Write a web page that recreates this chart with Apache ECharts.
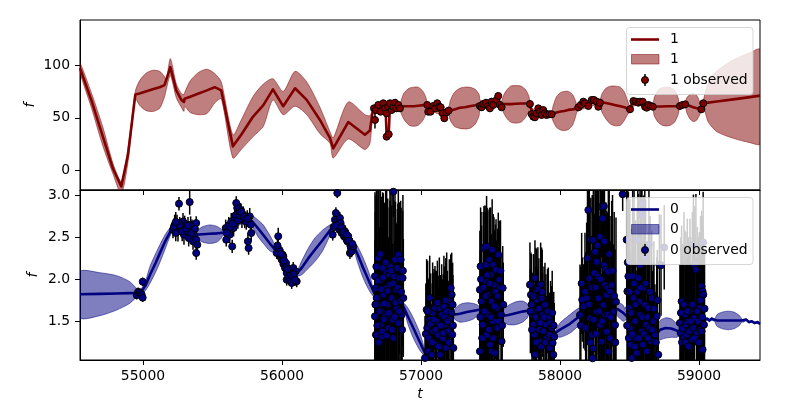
<!DOCTYPE html>
<html><head><meta charset="utf-8">
<script src="https://cdn.jsdelivr.net/npm/echarts@6/dist/echarts.min.js"></script>
<style>html,body{margin:0;padding:0;background:#fff}#c{width:800px;height:400px}</style>
</head><body><div id="c"></div>
<script>
// ---------- axis ticks ----------
const xTicks = [55000, 56000, 57000, 58000, 59000];
const topYTicks = [0, 50, 100];
const botYTicks = [1.5, 2.0, 2.5, 3.0];
const xRange = [54547, 59439];
const topYRange = [-18.3, 142.6];
const botYRange = [1.04, 3.06];

// ---------- top panel (series "1"): prediction [t, mean, lower, upper] ----------
const topPred = [
 [54547,97,93,102],[54628,67,60,74],[54712,32,23,41],[54784,2,-3,7],[54844,-15,-22,-10],
 [54892,15,8,21],[54945,72,68,75],[54975,73,62,85],[55020,75,57,92],[55070,77,56,95],
 [55120,79,59,94],[55155,81,70,89],[55168,82,77,86],[55197,98,90,106],[55240,76,69,82],
 [55276,67,60,73],[55295,65,56,72],[55300,68,61,74],[55340,70,55,85],[55400,73,53,93],
 [55460,76,54,96],[55516,79,64,92],[55563,76,68,84],[55647,23,12,34],[55707,34,20,48],
 [55791,51,32,70],[55866,62,42,82],[55935,77,67,87],[56009,61,53,75],[56094,78,61,94],
 [56178,67,53,84],[56273,48,35,60],[56345,31,26,37],[56369,21,12,31],[56477,46,30,65],
 [56597,34,20,53],[56633,38,26,52],[56650,54,50,58],[56662,59,56,62],[56700,60,57,63],
 [56745,60,57,63],[56753,33,30,36],[56768,34,31,37],[56776,61,58,64],[56849,60,57,63],
 [56858,60.5,54,67],[56880,61,48,74],[56915,61,43,78],[56947,61,42,79],[56980,61.5,43,79],
 [57015,62,48,75],[57036,62,54,69],[57045,62,59,65],[57100,58,55,61],[57160,55,52,58],
 [57199,56.5,53,60],[57210,57,48,66],[57240,58,42,74],[57280,59.5,40,78],[57315,60,39.5,79],
 [57350,61,40,79],[57390,62,44,77],[57418,63,52,72],[57430,63,60,66],[57580,63,60,66],
 [57590,63,56,70],[57615,63,50,76],[57645,63,46,80],[57682,63.3,45,80.5],[57720,63.5,46,80],
 [57750,63.6,50,77],[57775,63.8,56,71],[57784,63.5,60,66],[57800,56,53,59],[57830,54,51,57],
 [57870,54,51,57],[57940,53.5,50.5,56.5],[57950,54,47,61],[57975,55,41,70],[58005,56,38.5,74],
 [58030,56.5,38,75],[58060,57.5,39,75],[58090,58,43,72],[58112,58.5,51,66],[58125,59,56,62],
 [58200,63,60,66],[58250,65,62,68],[58290,65,62,68],[58300,64.8,56,72],[58330,64,49,78],
 [58365,63,44,80],[58400,62,42.5,80],[58435,61,43,79],[58465,60,48,74],[58490,58.5,54,65],
 [58504,58,55,61],[58528,64,61,67],[58580,64.5,61.5,67.5],[58620,61,58,64],[58668,60.5,58,63],
 [58678,60.6,52,69],[58705,60.7,46,76],[58735,60.8,43,78.5],[58764,60.9,42.3,79],[58795,61,43,78.5],
 [58825,61,46,76],[58850,61,53,69],[58860,61,58,64],[58901,62.8,60,65.5],[58912,62.3,55,69],
 [58935,61.2,49,72],[58960,60,46.5,73],[58985,59,48,71],[59005,58.3,53,65],[59017,58,56,60],
 [59031,63.8,61,66],[59045,64,55,74],[59067,64.4,46,83],[59127,65.5,37,94],[59247,67.5,30.6,104.7],
 [59367,69.6,26.5,111.6],[59439,71,25.3,114.8]
];
// observed [t, f, err]
const topObs = [
 [56662,59,3],[56669,48,8],[56676,57.4,3],[56693,62.2,3],[56710,55.8,3],[56729,63.8,3],[56741,59,3],
 [56753,32.2,3],[56753,54.3,3],[56765,60.5,3],[56768,34.4,3],[56777,63.8,3],[56789,57.4,3],[56801,60.5,3],
 [56813,64.3,3],[56825,59,3],[56837,62.2,3],[56849,59,3],
 [57045,62.2,3],[57052,55.8,3],[57069,55.8,3],[57088,61.2,3],[57101,59,3],[57117,63.8,3],[57132,60.5,3],
 [57142,60,3],[57156,54.3,3],[57168,49.6,3],[57185,55.3,3],[57199,56.8,3],
 [57424,61.2,3],[57436,60,3],[57448,63.1,3],[57468,64.3,3],[57484,61.2,3],[57496,59,3],[57508,65.3,3],
 [57520,62.2,3],[57544,66.9,3],[57556,70.7,3],[57568,62.2,3],[57580,60,3],
 [57784,63.1,3],[57796,53.6,3],[57808,51.1,3],[57820,50.5,3],[57832,54.3,3],[57844,59,3],[57856,55.8,3],
 [57868,52.7,3],[57880,57.4,3],[57892,54.3,3],[57904,52.7,3],[57923,53.4,3],[57940,53.4,3],
 [58132,60,3],[58149,62.2,3],[58168,65.3,3],[58180,63.8,3],[58204,61.2,3],[58228,66.9,3],[58245,66.9,3],
 [58264,65.3,3],[58276,60.5,3],[58288,64.3,3],
 [58504,58.1,3],[58528,65.9,3],[58547,65.3,3],[58564,64.3,3],[58576,65.3,3],[58595,65.3,3],[58612,60.5,3],
 [58624,59.6,3],[58636,62.2,3],[58653,61.2,3],[58668,60.5,3],
 [58863,61.2,3],[58882,62.2,3],[58901,62.8,3],[59017,58.1,3],[59031,63.8,3]
];

// ---------- bottom panel (series "0"): prediction [t, mean, lower, upper] ----------
const botPred = [
 [54547,1.822,1.543,2.089],[54691,1.826,1.567,2.077],[54811,1.830,1.634,2.042],[54906,1.835,1.714,1.970],
 [54955,1.838,1.790,1.890],[54985,1.845,1.810,1.880],[55020,1.93,1.87,1.99],[55050,2.05,1.95,2.15],
 [55090,2.19,2.08,2.30],[55122,2.31,2.20,2.41],[55160,2.45,2.36,2.53],[55195,2.56,2.51,2.61],
 [55216,2.60,2.57,2.63],[55300,2.58,2.55,2.61],[55385,2.53,2.50,2.56],[55400,2.532,2.47,2.59],
 [55430,2.535,2.44,2.625],[55480,2.54,2.425,2.645],[55530,2.545,2.44,2.63],[55560,2.55,2.48,2.60],
 [55575,2.55,2.52,2.58],[55650,2.62,2.59,2.65],[55700,2.68,2.65,2.71],[55760,2.71,2.68,2.74],
 [55790,2.68,2.61,2.75],[55830,2.60,2.50,2.70],[55866,2.525,2.426,2.644],[55910,2.43,2.34,2.53],
 [55945,2.36,2.31,2.42],[55961,2.33,2.30,2.36],[56000,2.25,2.22,2.28],[56050,2.15,2.12,2.18],
 [56105,2.07,2.04,2.10],[56140,2.13,2.05,2.21],[56190,2.25,2.13,2.37],[56237,2.35,2.21,2.49],
 [56290,2.46,2.33,2.58],[56340,2.57,2.50,2.64],[56368,2.63,2.60,2.66],[56420,2.56,2.53,2.59],
 [56470,2.48,2.45,2.51],[56512,2.41,2.38,2.44],[56540,2.31,2.22,2.40],[56585,2.13,2.01,2.25],
 [56630,1.96,1.86,2.06],[56669,1.82,1.78,1.86],[56770,1.75,1.72,1.78],[56872,1.68,1.64,1.72],
 [56905,1.56,1.47,1.66],[56945,1.42,1.30,1.54],[56990,1.26,1.16,1.37],[57029,1.12,1.08,1.16],
 [57041,1.09,1.06,1.12],[57100,1.30,1.26,1.34],[57170,1.48,1.44,1.52],[57232,1.578,1.55,1.61],
 [57245,1.58,1.52,1.65],[57280,1.59,1.49,1.70],[57330,1.61,1.50,1.72],[57380,1.625,1.53,1.71],
 [57410,1.635,1.58,1.69],[57424,1.64,1.61,1.67],[57500,1.66,1.63,1.69],[57540,1.60,1.57,1.63],
 [57580,1.56,1.53,1.59],[57595,1.565,1.49,1.64],[57630,1.575,1.46,1.69],[57680,1.595,1.46,1.73],
 [57730,1.615,1.49,1.74],[57765,1.625,1.54,1.71],[57784,1.635,1.60,1.67],[57850,1.55,1.52,1.58],
 [57910,1.45,1.42,1.48],[57964,1.36,1.33,1.39],[58000,1.40,1.31,1.48],[58072,1.47,1.36,1.58],
 [58140,1.56,1.46,1.66],[58192,1.61,1.56,1.66],[58250,1.63,1.60,1.66],[58330,1.65,1.62,1.68],
 [58380,1.66,1.62,1.70],[58420,1.64,1.55,1.72],[58455,1.60,1.50,1.69],[58480,1.56,1.52,1.60],
 [58550,1.50,1.47,1.53],[58620,1.42,1.39,1.45],[58683,1.34,1.31,1.37],[58700,1.36,1.28,1.44],
 [58720,1.40,1.28,1.51],[58760,1.42,1.30,1.54],[58800,1.415,1.31,1.53],[58840,1.39,1.31,1.47],
 [58875,1.37,1.34,1.40],[58950,1.43,1.40,1.46],[59020,1.50,1.47,1.53],[59045,1.52,1.50,1.54],
 [59060,1.53,1.515,1.545],[59075,1.51,1.495,1.525],[59090,1.53,1.515,1.545],[59105,1.52,1.505,1.535],
 [59115,1.51,1.49,1.53],[59130,1.51,1.44,1.58],[59170,1.51,1.41,1.61],[59210,1.51,1.40,1.62],
 [59250,1.51,1.41,1.61],[59290,1.51,1.45,1.57],[59307,1.51,1.49,1.53],[59320,1.50,1.49,1.51],
 [59340,1.52,1.51,1.53],[59360,1.49,1.48,1.50],[59380,1.50,1.49,1.51],[59400,1.48,1.47,1.49],
 [59420,1.49,1.48,1.50],[59439,1.47,1.46,1.48]
];
// observed [t, f, err]
const botObs = [
 [54955,1.81,0.05],[54965,1.85,0.05],[54978,1.84,0.05],[54990,1.82,0.05],[54998,1.97,0.05],[54998,1.78,0.05],
 [55216,2.588,0.1],[55228,2.647,0.12],[55245,2.667,0.1],[55252,2.568,0.12],[55259,2.897,0.08],[55276,2.608,0.1],
 [55288,2.687,0.1],[55295,2.529,0.12],[55300,2.655,0.1],[55304,2.628,0.1],[55319,2.568,0.1],[55329,2.489,0.1],
 [55336,2.917,0.15],[55343,2.647,0.1],[55353,2.588,0.12],[55360,2.45,0.1],[55367,2.529,0.1],[55383,2.667,0.08],
 [55383,2.469,0.1],[55391,2.41,0.1],[55383,2.311,0.08],
 [55222,2.62,0.1],[55236,2.55,0.1],[55264,2.64,0.1],[55282,2.57,0.12],[55311,2.60,0.1],[55324,2.64,0.1],
 [55348,2.55,0.1],[55374,2.60,0.1],[55236,2.68,0.12],
 [55595,2.608,0.1],[55599,2.469,0.08],[55607,2.568,0.1],[55617,2.64,0.1],[55624,2.529,0.1],[55635,2.687,0.1],
 [55642,2.39,0.08],[55652,2.608,0.1],[55660,2.727,0.1],[55671,2.905,0.08],[55678,2.846,0.1],[55688,2.786,0.1],
 [55700,2.825,0.08],[55712,2.707,0.1],[55722,2.766,0.1],[55732,2.707,0.1],[55743,2.687,0.1],[55755,2.45,0.1],
 [55760,2.37,0.08],[55768,2.747,0.1],[55775,2.647,0.1],[55779,2.549,0.1],
 [55602,2.55,0.1],[55628,2.62,0.1],[55645,2.66,0.1],[55666,2.76,0.1],[55683,2.70,0.1],[55694,2.76,0.1],
 [55706,2.80,0.1],[55727,2.74,0.1],[55750,2.72,0.1],
 [55962,2.311,0.07],[55973,2.51,0.1],[55981,2.35,0.07],[55986,2.272,0.07],[55998,2.232,0.07],[56005,2.291,0.07],
 [56010,2.18,0.07],[56010,2.272,0.07],[56022,2.133,0.07],[56029,2.192,0.07],[56034,2.074,0.07],[56034,1.994,0.07],
 [56045,2.014,0.07],[56053,2.094,0.07],[56058,1.994,0.07],[56070,1.955,0.07],[56077,2.053,0.07],[56081,2.133,0.07],
 [56089,2.014,0.07],[56099,2.094,0.07],[56106,1.975,0.07],
 [55968,2.40,0.07],[55992,2.30,0.07],[56016,2.22,0.07],[56040,2.12,0.07],[56064,2.05,0.07],[56085,2.06,0.07],
 [56094,1.99,0.07],
 [56365,2.529,0.07],[56381,2.707,0.07],[56388,2.786,0.07],[56398,3.024,0.06],[56398,2.687,0.07],[56405,2.647,0.07],
 [56412,2.588,0.07],[56417,2.727,0.07],[56422,2.667,0.07],[56430,2.549,0.07],[56436,2.608,0.07],[56446,2.51,0.07],
 [56453,2.568,0.07],[56460,2.489,0.07],[56470,2.45,0.07],[56477,2.51,0.07],[56489,2.43,0.07],[56489,2.311,0.07],
 [56496,2.37,0.07],[56501,2.331,0.07],[56513,2.39,0.07],
 [56372,2.62,0.07],[56394,2.64,0.07],[56426,2.62,0.07],[56442,2.56,0.07],[56465,2.53,0.07],[56482,2.46,0.07],
 [56506,2.42,0.07],
 [56669,2.034,1.0],[56669,1.559,0.9],[56676,1.895,1.1],[56676,1.341,0.6],[56681,1.777,1.2],[56693,2.252,0.8],
 [56693,1.697,0.9],[56705,1.975,1.1],[56710,1.46,0.7],[56717,1.618,1.0],[56724,2.133,0.9],[56729,1.816,1.2],
 [56741,1.895,0.9],[56741,1.559,1.0],[56753,2.074,1.1],[56758,1.697,0.8],[56765,1.42,0.7],[56772,2.053,0.8],
 [56777,1.935,1.0],[56777,2.153,1.1],[56782,1.578,0.8],[56789,1.777,1.1],[56796,1.519,0.9],[56801,1.30,0.6],
 [56801,3.04,0.3],[56806,2.034,0.9],[56813,2.232,1.0],[56820,1.875,0.8],[56825,1.658,1.0],[56830,2.133,0.7],
 [56837,2.291,0.9],[56837,1.48,0.7],[56844,2.014,0.9],[56849,1.737,1.0],[56854,2.232,0.7],[56861,1.578,0.7],
 [56868,2.014,0.8],[56873,1.777,0.7],[56681,1.337,0.6],[56717,1.317,0.7],
 [56672,1.70,1.1],[56679,2.15,0.9],[56686,1.45,0.8],[56690,1.98,1.2],[56698,1.25,0.7],[56702,1.62,1.0],
 [56708,2.30,0.8],[56714,1.88,1.1],[56720,1.38,0.8],[56727,2.02,1.0],[56733,1.52,0.9],[56737,1.71,1.2],
 [56746,2.20,0.9],[56750,1.33,0.7],[56761,1.86,1.1],[56768,1.60,0.9],[56785,2.10,1.0],[56792,1.40,0.8],
 [56798,1.95,1.1],[56810,1.55,0.9],[56817,1.72,1.2],[56834,1.90,1.0],[56841,1.62,0.9],[56857,1.85,1.0],
 [56864,1.40,0.8],[56870,2.10,0.9],
 [57029,1.064,0.5],[57041,1.638,0.6],[57045,1.42,0.6],[57052,1.143,0.7],[57060,1.519,0.5],[57065,1.282,0.7],
 [57077,1.103,0.6],[57084,1.599,0.6],[57088,1.381,0.7],[57101,1.658,0.5],[57108,1.222,0.7],[57113,1.50,0.6],
 [57124,1.341,0.7],[57132,1.658,0.6],[57137,1.103,0.7],[57149,1.578,0.6],[57156,1.30,0.7],[57165,1.678,0.6],
 [57173,1.46,0.5],[57180,1.183,0.6],[57185,1.618,0.7],[57196,1.381,0.6],[57204,1.737,0.5],[57209,1.519,0.6],
 [57214,1.895,0.4],[57221,1.816,0.5],[57225,1.341,0.6],[57228,1.697,0.5],[57233,1.183,0.6],
 [57035,1.35,0.6],[57048,1.62,0.6],[57056,1.30,0.7],[57070,1.47,0.6],[57081,1.25,0.7],[57094,1.52,0.6],
 [57104,1.40,0.7],[57118,1.72,0.5],[57128,1.20,0.7],[57142,1.45,0.6],[57160,1.36,0.7],[57169,1.55,0.6],
 [57178,1.75,0.5],[57190,1.50,0.6],[57200,1.25,0.7],[57218,1.60,0.6],[57230,1.45,0.6],[57063,1.78,0.5],
 [57424,1.875,0.7],[57424,1.143,0.7],[57429,2.153,0.7],[57436,1.737,0.9],[57444,1.46,0.7],[57453,2.371,0.5],
 [57460,1.975,0.9],[57468,2.173,0.7],[57472,1.341,0.8],[57472,2.39,0.6],[57480,1.816,1.0],[57484,1.578,0.8],
 [57491,2.232,0.6],[57496,1.222,0.7],[57501,2.053,0.8],[57508,1.737,0.8],[57508,1.143,0.6],[57516,1.50,0.9],
 [57520,2.173,0.6],[57525,1.935,0.8],[57532,1.123,0.5],[57540,2.113,0.6],[57544,1.658,0.8],[57549,1.42,0.7],
 [57556,2.291,0.5],[57563,1.994,0.7],[57568,1.895,0.6],[57576,1.578,0.7],[57580,1.262,0.6],[57588,1.895,0.5],
 [57592,1.697,0.5],
 [57427,1.55,0.8],[57432,2.0,0.8],[57440,1.30,0.7],[57448,1.90,0.9],[57456,1.62,0.8],[57464,1.80,1.0],
 [57476,2.05,0.8],[57488,1.40,0.8],[57494,1.95,0.9],[57504,1.55,0.8],[57512,2.35,0.6],[57518,1.30,0.7],
 [57528,1.68,0.9],[57536,1.85,0.8],[57552,1.80,0.8],[57560,1.50,0.7],[57572,2.10,0.6],[57584,1.45,0.6],
 [57784,1.935,0.5],[57791,1.816,0.5],[57796,1.697,0.6],[57803,1.578,0.5],[57808,1.46,0.6],[57815,1.341,0.5],
 [57820,2.014,0.45],[57820,1.103,0.5],[57827,1.875,0.5],[57832,1.757,0.6],[57837,1.638,0.5],[57844,1.519,0.6],
 [57851,1.40,0.5],[57856,1.262,0.5],[57861,1.935,0.5],[57868,1.777,0.6],[57875,1.578,0.5],[57880,1.381,0.6],
 [57892,1.697,0.5],[57899,1.46,0.6],[57904,1.30,0.5],[57916,1.539,0.6],[57923,1.341,0.5],[57928,1.183,0.5],
 [57940,1.42,0.5],[57947,1.242,0.5],[57952,1.103,0.4],[57959,1.317,0.4],
 [57787,1.62,0.5],[57799,1.40,0.5],[57811,1.80,0.5],[57824,1.55,0.6],[57830,1.25,0.5],[57841,1.88,0.5],
 [57848,1.65,0.6],[57859,1.48,0.5],[57865,1.20,0.5],[57872,1.85,0.5],[57885,1.55,0.6],[57895,1.25,0.5],
 [57910,1.62,0.5],[57932,1.48,0.5],[57944,1.60,0.5],[57955,1.45,0.4],
 [58144,1.575,0.6],[58160,1.757,0.5],[58170,1.678,0.5],[58176,1.856,0.4],[58180,1.852,0.7],[58192,1.773,0.9],
 [58204,2.822,0.6],[58211,2.01,1.1],[58216,1.536,0.9],[58222,2.469,0.5],[58228,1.337,1.0],[58235,1.06,0.7],
 [58240,2.466,0.9],[58240,1.179,0.8],[58247,2.074,0.7],[58252,2.327,1.0],[58264,2.208,1.1],[58264,1.614,0.9],
 [58276,2.03,1.2],[58276,1.773,0.8],[58288,2.505,0.9],[58288,1.456,1.0],[58300,2.861,0.6],[58300,1.258,0.8],
 [58307,2.723,0.7],[58312,1.693,1.0],[58316,2.866,0.5],[58317,2.169,1.1],[58324,1.931,0.9],[58324,1.575,0.8],
 [58330,2.113,0.8],[58336,1.812,1.0],[58336,1.377,0.8],[58340,1.895,0.9],[58348,2.089,1.1],[58348,1.139,0.6],
 [58360,1.852,0.9],[58360,1.298,0.8],[58372,1.931,1.0],[58384,1.614,0.8],[58396,1.456,0.9],[58403,1.733,1.0],
 [58150,1.45,0.7],[58156,1.95,0.6],[58185,1.42,0.9],[58198,2.25,1.0],[58208,1.70,1.1],[58219,1.25,0.9],
 [58232,1.90,1.1],[58244,1.52,1.0],[58256,1.90,1.2],[58260,1.35,0.9],[58270,2.40,0.9],[58282,1.62,1.1],
 [58294,2.00,1.2],[58304,1.50,1.0],[58320,2.45,0.9],[58344,1.58,1.0],[58354,2.30,0.8],[58366,1.55,0.9],
 [58378,2.10,0.9],[58390,1.80,1.0],[58398,1.25,0.7],
 [58451,3.01,0.2],
 [58480,2.469,0.9],[58485,1.856,1.0],[58492,2.034,1.0],[58499,1.658,1.1],[58504,1.42,0.9],[58509,1.222,0.8],
 [58516,1.064,0.6],[58523,2.034,1.1],[58528,1.777,1.0],[58540,1.50,0.9],[58547,1.30,0.8],[58552,1.123,0.6],
 [58560,2.466,0.8],[58564,2.014,1.0],[58571,1.737,0.9],[58576,1.578,1.0],[58576,2.165,0.9],[58585,2.77,0.6],
 [58588,1.381,0.8],[58590,2.90,0.5],[58595,1.222,0.7],[58600,1.895,1.1],[58610,2.267,0.8],[58612,1.697,0.9],
 [58619,1.46,0.8],[58624,1.143,0.6],[58636,1.658,0.9],[58640,2.41,0.7],[58643,1.42,0.8],[58653,1.262,0.6],
 [58660,1.777,0.8],[58672,1.50,0.7],[58683,1.341,0.6],[58696,1.559,0.7],[58707,1.103,0.5],[58715,2.17,0.6],
 [58727,2.165,0.6],[58750,2.378,0.5],
 [58483,1.45,0.9],[58488,2.20,1.0],[58495,1.30,0.8],[58502,1.85,1.1],[58512,1.60,1.0],[58520,1.35,0.9],
 [58533,1.95,1.1],[58537,1.20,0.7],[58544,1.70,1.0],[58556,1.85,1.0],[58567,1.30,0.8],[58580,1.90,1.1],
 [58592,1.55,0.9],[58604,1.35,0.8],[58616,1.95,1.0],[58628,1.55,0.8],[58632,1.30,0.7],[58648,1.85,0.9],
 [58664,1.40,0.7],[58676,1.65,0.8],[58690,1.25,0.6],[58700,1.75,0.6],
 [58863,1.48,0.7],[58868,1.361,0.8],[58875,1.737,0.9],[58882,1.42,1.0],[58887,1.30,0.9],[58899,1.578,1.0],
 [58906,1.46,1.1],[58911,1.341,0.9],[58923,1.50,1.0],[58930,1.381,0.9],[58935,1.618,1.1],[58947,1.282,0.9],
 [58959,1.42,1.0],[58960,2.406,0.6],[58964,1.539,1.0],[58970,2.169,0.7],[58978,2.113,0.9],[58983,1.361,0.9],
 [58995,1.50,1.0],[59002,1.658,0.9],[59007,1.40,0.8],[59019,1.915,0.9],[59019,1.381,0.8],[59026,1.856,0.9],
 [59026,1.163,0.6],[59030,2.438,0.6],[59031,1.816,0.8],[59036,1.46,0.7],
 [58870,1.60,0.9],[58878,1.25,0.8],[58892,1.70,1.1],[58902,1.25,0.9],[58916,1.62,1.1],[58926,1.20,0.8],
 [58940,1.50,1.0],[58952,1.70,1.1],[58968,1.30,0.9],[58988,1.62,1.0],[58999,1.25,0.8],[59011,1.75,1.0],
 [59023,1.55,0.9],[59040,1.65,0.7]
];

// ---------- styling ----------
const RED = '#800000', RED_A = 'rgba(128,0,0,0.5)';
const BLUE = '#000080', BLUE_A = 'rgba(0,0,128,0.5)';
const FONT = '"DejaVu Sans", sans-serif';
const FS = 13.9;
const LW = 2.6;

function bandSeries(idx, pred, fill) {
  return {
    type: 'custom', xAxisIndex: idx, yAxisIndex: idx, z: 1, silent: true, clip: true,
    data: [[pred[0][0], pred[0][1]]],
    renderItem: function (params, api) {
      const pts = [];
      for (let i = 0; i < pred.length; i++) pts.push(api.coord([pred[i][0], pred[i][3]]));
      for (let i = pred.length - 1; i >= 0; i--) pts.push(api.coord([pred[i][0], pred[i][2]]));
      return { type: 'polygon', shape: { points: pts, smooth: 0.25 },
               style: { fill: fill, stroke: fill, lineWidth: 1 } };
    }
  };
}
function meanSeries(idx, pred, color) {
  return { type: 'line', xAxisIndex: idx, yAxisIndex: idx, z: 2, silent: true, clip: true,
    symbol: 'none', data: pred.map(r => [r[0], r[1]]),
    lineStyle: { color: color, width: LW, join: 'round' } };
}
function errSeries(idx, obs) {
  return { type: 'custom', xAxisIndex: idx, yAxisIndex: idx, z: 3, silent: true, clip: true,
    data: obs.map(r => [r[0], r[1], r[2]]), encode: { x: 0, y: 1 },
    renderItem: function (params, api) {
      const t = api.value(0), f = api.value(1), e = api.value(2);
      const a = api.coord([t, f - e]), b = api.coord([t, f + e]);
      return { type: 'line', shape: { x1: a[0], y1: a[1], x2: b[0], y2: b[1] },
               style: { stroke: '#000', lineWidth: 1.5 } };
    }
  };
}
function obsSeries(idx, obs, color) {
  return { type: 'scatter', xAxisIndex: idx, yAxisIndex: idx, z: 4, silent: true, clip: true,
    symbol: 'circle', symbolSize: 7, data: obs.map(r => [r[0], r[1]]),
    itemStyle: { color: color, borderColor: '#000', borderWidth: 1, opacity: 1 } };
}
function xAx(gi, show) {
  return { type: 'value', gridIndex: gi, min: xRange[0], max: xRange[1],
    axisLine: { show: true, onZero: false, lineStyle: { color: '#000', width: 1 } },
    axisTick: { show: true, length: 5, customValues: xTicks, lineStyle: { color: '#000', width: 1 } },
    axisLabel: { show: show, customValues: xTicks, margin: 9, color: '#000', fontSize: FS, fontFamily: FONT,
                 formatter: v => String(v) },
    splitLine: { show: false },
    name: show ? 't' : '', nameLocation: 'middle', nameGap: 27, nameMoveOverlap: false,
    nameTextStyle: { color: '#000', fontSize: FS, fontFamily: FONT, fontStyle: 'italic' } };
}
function yAx(gi, range, ticks, fmt, gap) {
  return { type: 'value', gridIndex: gi, min: range[0], max: range[1],
    axisLine: { show: true, onZero: false, lineStyle: { color: '#000', width: 1 } },
    axisTick: { show: true, length: 5, customValues: ticks, lineStyle: { color: '#000', width: 1 } },
    axisLabel: { show: true, customValues: ticks, margin: 10, color: '#000', fontSize: FS, fontFamily: FONT,
                 formatter: fmt },
    splitLine: { show: false },
    name: 'f', nameLocation: 'middle', nameGap: gap, nameRotate: 90, nameMoveOverlap: false,
    nameTextStyle: { color: '#000', fontSize: FS, fontFamily: FONT, fontStyle: 'italic' } };
}
function legend(y0, color, fillA, label) {
  const font = FS + 'px ' + FONT;
  return [
    { type: 'rect', z: 100, shape: { x: 626.5, y: y0, width: 126.5, height: 67, r: 3 },
      style: { fill: 'rgba(255,255,255,0.8)', stroke: 'rgba(204,204,204,0.8)', lineWidth: 1 } },
    { type: 'line', z: 101, shape: { x1: 631, y1: y0 + 12, x2: 659, y2: y0 + 12 },
      style: { stroke: color, lineWidth: LW } },
    { type: 'rect', z: 101, shape: { x: 631.5, y: y0 + 27, width: 27.5, height: 9.5 },
      style: { fill: fillA, stroke: fillA, lineWidth: 1 } },
    { type: 'line', z: 101, shape: { x1: 645, y1: y0 + 46.5, x2: 645, y2: y0 + 58.5 },
      style: { stroke: '#000', lineWidth: 1.5 } },
    { type: 'circle', z: 102, shape: { cx: 645, cy: y0 + 52.5, r: 3.5 },
      style: { fill: color, stroke: '#000', lineWidth: 1 } },
    { type: 'text', z: 101, x: 670, y: y0 + 12, style: { text: label, font: font, fill: '#000', verticalAlign: 'middle' } },
    { type: 'text', z: 101, x: 670, y: y0 + 32, style: { text: label, font: font, fill: '#000', verticalAlign: 'middle' } },
    { type: 'text', z: 101, x: 670, y: y0 + 52.5, style: { text: label + ' observed', font: font, fill: '#000', verticalAlign: 'middle' } }
  ];
}

const chart = echarts.init(document.getElementById('c'), null, { renderer: 'canvas', width: 800, height: 400 });
chart.setOption({
  animation: false,
  backgroundColor: '#fff',
  grid: [
    { left: 80, top: 20, width: 680, height: 170, show: true, borderColor: '#000', borderWidth: 1,
      backgroundColor: 'transparent', containLabel: false, outerBoundsMode: 'none' },
    { left: 80, top: 190, width: 680, height: 170, show: true, borderColor: '#000', borderWidth: 1,
      backgroundColor: 'transparent', containLabel: false, outerBoundsMode: 'none' }
  ],
  xAxis: [xAx(0, false), xAx(1, true)],
  yAxis: [yAx(0, topYRange, topYTicks, v => String(v), 43), yAx(1, botYRange, botYTicks, v => v.toFixed(1), 40)],
  series: [
    bandSeries(0, topPred, RED_A), meanSeries(0, topPred, RED), errSeries(0, topObs), obsSeries(0, topObs, RED),
    bandSeries(1, botPred, BLUE_A), meanSeries(1, botPred, BLUE), errSeries(1, botObs), obsSeries(1, botObs, BLUE)
  ],
  graphic: { elements: legend(27.5, RED, RED_A, '1').concat(legend(197.5, BLUE, BLUE_A, '0')) }
});
</script>
</body></html>
